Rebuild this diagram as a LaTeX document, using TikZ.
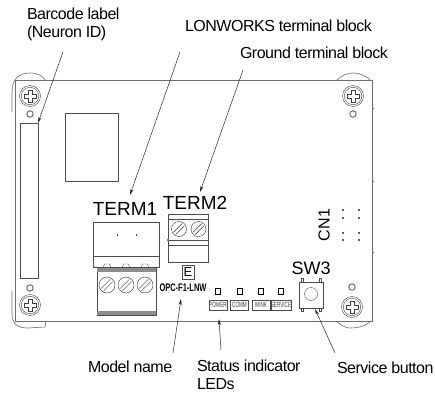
\documentclass[tikz,border=0pt]{standalone}
\usepackage{fontspec}
\setmainfont{Liberation Sans}
\usetikzlibrary{positioning, arrows.meta, calc}
\definecolor{edgegray}{HTML}{6E6E6E}
\definecolor{bandgray}{HTML}{8C8C8C}
% cross-head screw on the panel, with its hole
\newcommand{\panelscrew}[3]{
  \draw[line width=0.4pt, black!75] (#1,#2) circle (10.5);
  \draw[line width=0.4pt, black!75] (#1,#2) circle (8.7);
  \draw[line width=0.4pt, black!75] ($(#1,#2)+(-2,-6)$) -- ++(4,0) -- ++(0,4) -- ++(4,0) -- ++(0,4) -- ++(-4,0)
    -- ++(0,4) -- ++(-4,0) -- ++(0,-4) -- ++(-4,0) -- ++(0,-4) -- ++(4,0) -- cycle;
  \draw[edgegray, line width=1pt] (#1,#3) circle (3.2);
}
% slotted screw of a terminal block
\newcommand{\termscrew}[3]{
  \draw[line width=0.4pt, black!80] (#1,#2) circle (#3);
  \draw[line width=0.4pt, black!80] ($(#1,#2)+(-0.72*#3,0.42*#3)$) -- ($(#1,#2)+(0.42*#3,-0.72*#3)$);
  \draw[line width=0.4pt, black!80] ($(#1,#2)+(-0.42*#3,0.72*#3)$) -- ($(#1,#2)+(0.72*#3,-0.42*#3)$);
}
\begin{document}
\begin{tikzpicture}[
  x=1pt, y=-1pt,
  >={Stealth[length=6pt, width=3pt]},
  every node/.style={inner sep=0pt, outer sep=0pt},
  callout/.style={font=\fontsize{16}{18}\selectfont\addfontfeatures{LetterSpace=-3}, text=black, align=left},
  tag/.style={font=\fontsize{19}{22}\selectfont},
  part/.style={draw=black!70, line width=0.5pt, anchor=north west},
  ledlabel/.style={draw=black!70, line width=0.4pt, minimum width=18pt, minimum height=10pt, text=black!75,
    font=\fontsize{7.5}{8}\selectfont\addfontfeatures{FakeStretch=0.62}},
  led/.style={draw=black, line width=0.7pt, minimum width=5pt, minimum height=6pt},
  leader/.style={->, line width=0.5pt, black!85}
]
  \useasboundingbox (0,0) rectangle (435,393);

  % Panel
  \draw[edgegray, line width=1pt] (15,81) rectangle (372,321);
  \draw[edgegray, line width=0.6pt] (12,112) -- (12,92) .. controls (12,78) and (20,73) .. (30,73)
    .. controls (38,73) and (43,76) .. (46,81);
  \draw[edgegray, line width=0.6pt] (336,81) .. controls (342,75) and (348,73) .. (353,73)
    .. controls (360,73) and (367,76) .. (371,81);
  \draw[edgegray, line width=0.6pt] (12,291) -- (12,314) .. controls (12,324) and (18,328) .. (28,328)
    -- (45,327) -- (46,321);
  \draw[edgegray, line width=0.6pt] (336,321) .. controls (342,326) and (346,328) .. (350,328)
    .. controls (360,328) and (367,325) .. (371,321);
  \foreach \y in {108, 181, 252} { \draw[edgegray] (372,\y) -- (374,\y); }

  % Screws
  \panelscrew{30}{96}{114}
  \panelscrew{353}{96}{114}
  \panelscrew{30}{305}{288}
  \panelscrew{352}{307}{287}

  % Barcode label and cut-out
  \node[part, minimum width=18pt, minimum height=155pt] (barcode) at (20,123) {};
  \node[part, minimum width=53pt, minimum height=68pt] (cutout) at (65.5,113) {};

  % TERM1
  \node[part, minimum width=66pt, minimum height=45pt] (term1) at (93,222) {};
  \draw[thin, black!70] (93,256) -- (159,256);
  \foreach \x in {117,136} { \fill[black!70] (\x,233.5) rectangle ++(1.2,2.5); }
  \foreach \x in {107,126,145} {
    \draw[thin, black!70] (\x-4,268) -- (\x-2.5,264) -- (\x+2.5,264) -- (\x+4,268);
  }
  \node[part, minimum width=59pt, minimum height=47pt] (plug1) at (97,268) {};
  \fill[bandgray] (97,268) rectangle (156,271.5);
  \fill[bandgray] (97,311) rectangle (156,315);
  \foreach \x in {107,126,145} { \termscrew{\x}{285}{8} }
  \node[tag] (term1tag) at (125,209) {TERM1};

  % TERM2
  \node[part, minimum width=40pt, minimum height=48pt] (term2) at (168,214) {};
  \draw[thin, black!70] (168,219) -- (208,219);
  \draw[thin, black!70] (168,240) -- (208,240);
  \draw[thin, black!70] (168,245) -- (208,245);
  \foreach \x in {179,198.5} { \termscrew{\x}{229}{7.5} }
  \draw[thin, black!70, fill=white] (168,240) circle (1.2);
  \node[tag] (term2tag) at (195,203) {TERM2};

  % Model
  \node[part, minimum width=12pt, minimum height=14pt, font=\fontsize{13}{13}\selectfont] (emark) at (182,265) {E};
  \node[font=\fontsize{11}{12}\selectfont\bfseries\addfontfeatures{FakeStretch=0.68}] (model) at (183,288) {OPC-F1-LNW};

  % LEDs
  \foreach \name/\cx/\lab in {power/218/POWER, comm/239.5/COMM, wink/261/WINK, service/281/SERVICE} {
    \node[led] (led\name) at (\cx,291) {};
    \node[ledlabel] (lab\name) at (\cx,305) {\lab};
  }

  % SW3
  \node[part, minimum width=24pt, minimum height=26pt] (sw3) at (299,282) {};
  \draw[thin, black!70] (311,294) circle (6.5);
  \foreach \x in {302,320} {
    \draw[thin, black!70] (\x-1,282) -- (\x-1,278.5) -- (\x+1,278.5) -- (\x+1,282);
    \draw[thin, black!70] (\x-1,308) -- (\x-1,311) -- (\x+1,311) -- (\x+1,308);
  }
  \node[font=\fontsize{18}{20}\selectfont] (sw3tag) at (311,268) {SW3};

  % CN1
  \node[font=\fontsize{16}{20}\selectfont, rotate=90] (cn1) at (324,225) {CN1};
  \foreach \x in {343,359} {
    \foreach \y in {210,218,233,240} { \fill[black!60] (\x-0.8,\y-1) rectangle (\x+0.8,\y+1); }
  }

  % Callouts
  \node[callout, anchor=west] (barcodetxt) at (27,24.5) {Barcode label\\(Neuron ID)};
  \node[callout, anchor=west] (lonworkstxt) at (185,26) {LONWORKS terminal block};
  \node[callout, anchor=west] (groundtxt) at (240,53) {Ground terminal block};
  \node[callout, anchor=west] (modeltxt) at (88,367) {Model name};
  \node[callout, anchor=west] (statustxt) at (197,375) {Status indicator\\LEDs};
  \node[callout, anchor=west] (servicetxt) at (337,368) {Service button};

  % Edges
  \coordinate (barcodetail) at (63,52);
  \coordinate (lonworkstail) at (180,52);
  \coordinate (groundtail) at (243,70);
  \coordinate (modeltail) at (173,353);
  \coordinate (statustail) at (221,350);
  \coordinate (servicetail) at (335,353);
  \draw[leader] (barcodetail) -- (barcode.north east);
  \draw[leader] (lonworkstail) -- (130,195);
  \draw[leader] (groundtail) -- (200,192);
  \draw[leader] (modeltail) -- (181,299);
  \draw[leader] (statustail) -- (219,319);
  \draw[leader] (servicetail) -- (315,309);
\end{tikzpicture}
\end{document}
